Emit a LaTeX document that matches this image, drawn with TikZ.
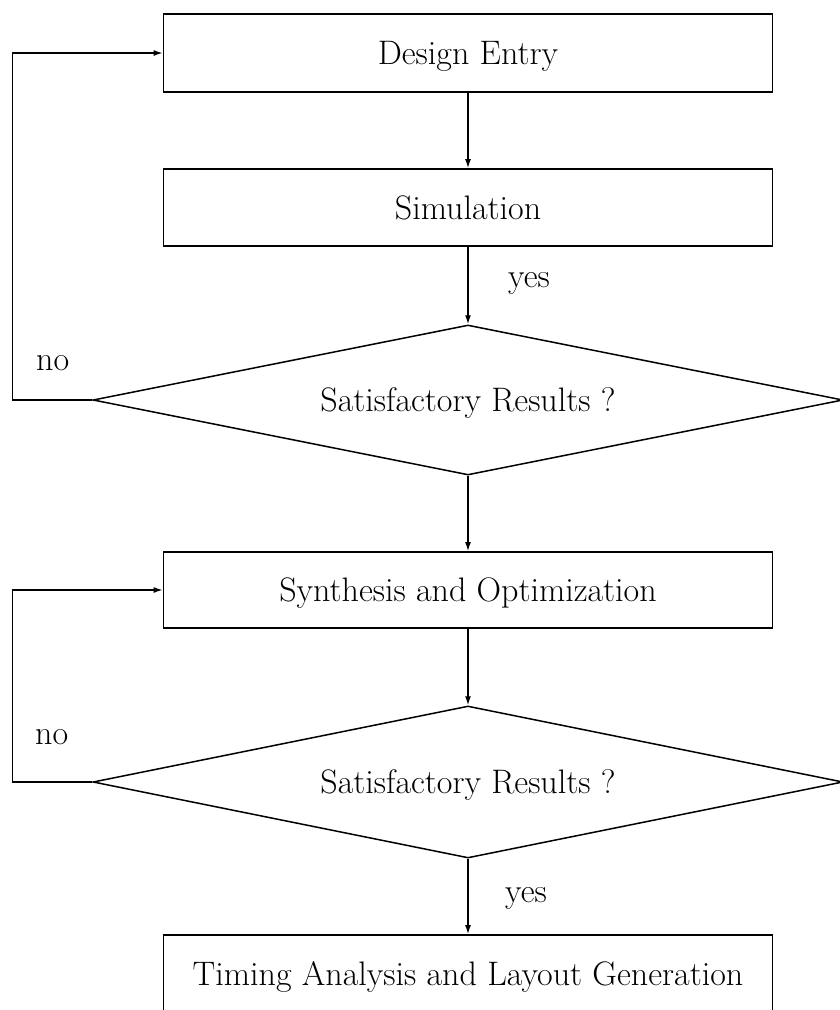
\documentclass[tikz,border=0pt]{standalone}
\usetikzlibrary{shapes.geometric,arrows.meta}
\begin{document}
\begin{tikzpicture}[x=1pt,y=-1pt,
  every node/.style={font=\fontsize{34}{40}\selectfont},
  procbox/.style={draw,rectangle,line width=1.7pt,minimum width=609pt,inner sep=0pt,text height=23pt,text depth=0pt},
  decide/.style={draw,diamond,aspect=5,line width=1.5pt,minimum width=750pt,minimum height=150pt,inner sep=0pt,text height=23pt,text depth=0pt},
  lbl/.style={anchor=base west,inner sep=0pt},
  arr/.style={line width=1.4pt,-{Latex[length=9pt,width=6pt]}}]
\useasboundingbox (0,0) rectangle (840,1010);
\clip (0,0) rectangle (840,1010);
\node[procbox,minimum height=78pt] (de) at (468,53) {Design Entry};
\node[procbox,minimum height=77pt] (sim) at (468,207.5) {Simulation};
\node[decide] (d1) at (468,400) {Satisfactory Results ?};
\node[procbox,minimum height=76pt] (syn) at (468,590) {Synthesis and Optimization};
\node[decide,minimum height=152pt] (d2) at (468,782) {Satisfactory Results ?};
\node[procbox,minimum height=78pt] (tim) at (468,974) {Timing Analysis and Layout Generation};
\node[lbl] (yes1) at (508,287) {yes};
\node[lbl] (yes2) at (505,902) {yes};
\node[lbl] (no1) at (36,370) {no};
\node[lbl] (no2) at (35,744) {no};
\draw[arr] (de.south) -- (sim.north);
\draw[arr] (sim.south) -- (d1.north);
\draw[arr] (d1.south) -- (syn.north);
\draw[arr] (syn.south) -- (d2.north);
\draw[arr] (d2.south) -- (tim.north);
\draw[arr] (d1.west) -- ++(-80,0) |- (de.west);
\draw[arr] (d2.west) -- ++(-80,0) |- (syn.west);
\end{tikzpicture}
\end{document}
